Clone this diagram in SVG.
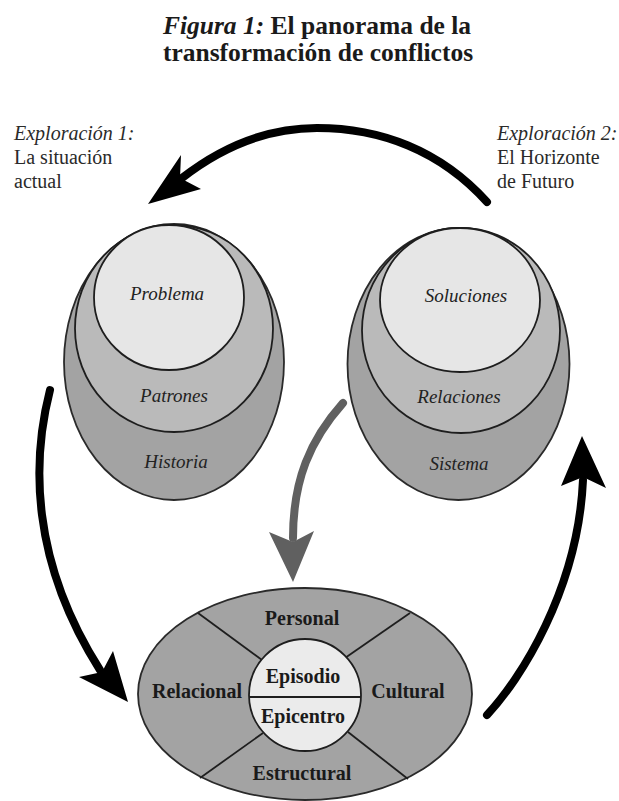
<svg xmlns="http://www.w3.org/2000/svg" width="619" height="801" viewBox="0 0 619 801">
  <defs>
    <style>
      .title { font-family: "Liberation Serif", "Times New Roman", serif; font-size: 25.5px; font-weight: bold; fill: #1a1a1a; }
      .side { font-family: "Liberation Serif", "Times New Roman", serif; font-size: 20px; fill: #2a2a2a; }
      .egg { font-family: "Liberation Serif", "Times New Roman", serif; font-size: 19px; font-style: italic; fill: #222; text-anchor: middle; }
      .dim { font-family: "Liberation Serif", "Times New Roman", serif; font-size: 20px; font-weight: bold; fill: #1a1a1a; text-anchor: middle; }
      .outer { fill: #a3a3a3; stroke: #2a2a2a; stroke-width: 1.8; }
      .middle { fill: #bababa; stroke: #1e1e1e; stroke-width: 1.8; }
      .inner { fill: #e6e6e6; stroke: #1e1e1e; stroke-width: 1.8; }
      .line { stroke: #1e1e1e; stroke-width: 1.8; fill: none; }
      .shaft { fill: none; stroke: #000; stroke-width: 8; stroke-linecap: round; }
      .shaft-grey { fill: none; stroke: #606060; stroke-width: 8; stroke-linecap: round; }
    </style>
  </defs>
  <rect width="619" height="801" fill="#ffffff"/>

  <g id="title">
    <text class="title" x="317" y="34" text-anchor="middle"><tspan font-style="italic">Figura 1:</tspan> El panorama de la</text>
    <text class="title" x="318" y="61" text-anchor="middle">transformación de conflictos</text>
  </g>

  <g id="label-exploracion-1">
    <text class="side" x="14" y="140"><tspan font-style="italic">Exploración 1:</tspan></text>
    <text class="side" x="14" y="164">La situación</text>
    <text class="side" x="14" y="188">actual</text>
  </g>

  <g id="label-exploracion-2">
    <text class="side" x="497" y="140"><tspan font-style="italic">Exploración 2:</tspan></text>
    <text class="side" x="497" y="164">El Horizonte</text>
    <text class="side" x="497" y="188">de Futuro</text>
  </g>

  <g id="situacion-actual">
    <ellipse class="outer" cx="174" cy="362" rx="110" ry="138"/>
    <ellipse class="middle" cx="174" cy="328.5" rx="99" ry="103.5"/>
    <ellipse class="inner" cx="169" cy="297.5" rx="75" ry="72.5"/>
    <text class="egg" x="167" y="300">Problema</text>
    <text class="egg" x="174" y="402">Patrones</text>
    <text class="egg" x="176" y="468">Historia</text>
  </g>

  <g id="horizonte-futuro">
    <ellipse class="outer" cx="458.5" cy="364" rx="111" ry="136"/>
    <ellipse class="middle" cx="461" cy="330.5" rx="99" ry="102.5"/>
    <ellipse class="inner" cx="460" cy="300" rx="80" ry="72"/>
    <text class="egg" x="466" y="302">Soluciones</text>
    <text class="egg" x="459" y="403">Relaciones</text>
    <text class="egg" x="459" y="470">Sistema</text>
  </g>

  <g id="dimensiones">
    <ellipse class="outer" cx="305" cy="694" rx="167" ry="106"/>
    <line class="line" x1="198" y1="613" x2="262" y2="660"/>
    <line class="line" x1="410" y1="613" x2="345" y2="658"/>
    <line class="line" x1="200" y1="778" x2="263" y2="733"/>
    <line class="line" x1="408" y1="779" x2="348" y2="732"/>
    <circle cx="305" cy="695" r="56" fill="#ebebeb" stroke="#1e1e1e" stroke-width="1.8"/>
    <line class="line" x1="249" y1="697" x2="361" y2="697"/>
    <text class="dim" x="302" y="625">Personal</text>
    <text class="dim" x="197" y="698">Relacional</text>
    <text class="dim" x="408" y="698">Cultural</text>
    <text class="dim" x="302" y="780">Estructural</text>
    <text class="dim" x="303" y="683">Episodio</text>
    <text class="dim" x="303" y="723">Epicentro</text>
  </g>

  <g id="connectors">
    <path class="shaft" d="M487,202 C440,150 380,128 317,128 C262,128 218,150 182,178"/>
    <path d="M148,204 L181,155 L180,178 L201,189 Z" fill="#000"/>

    <path class="shaft" d="M50,390 C32,460 30,560 100,670"/>
    <path d="M128,702 L79,677 L102,672 L113,651 Z" fill="#000"/>

    <path class="shaft" d="M487,715 C520,680 578,590 583,480"/>
    <path d="M582,436 L561,486 L583,477 L606,488 Z" fill="#000"/>

    <path class="shaft-grey" d="M343,403 C310,440 293,480 293,538"/>
    <path d="M293,582 L269,532 L293,542 L314,531 Z" fill="#606060"/>
  </g>
</svg>
